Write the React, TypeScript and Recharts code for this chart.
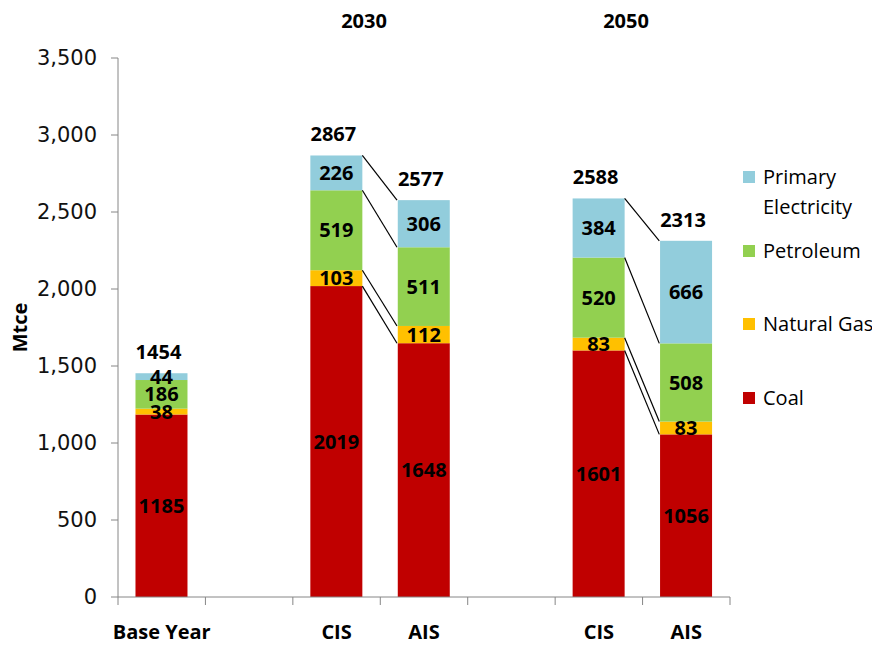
import { BarChart, Bar, XAxis, YAxis, Legend, LabelList } from "recharts";

// categories (two empty slots separate the scenario groups)
const categoryIds = ["base", "gap1", "cis2030", "ais2030", "gap2", "cis2050", "ais2050"];
const categoryLabels = ["Base Year", "", "CIS", "AIS", "", "CIS", "AIS"];

// Mtce by fuel
const coal = [1185, null, 2019, 1648, null, 1601, 1056];
const naturalGas = [38, null, 103, 112, null, 83, 83];
const petroleum = [186, null, 519, 511, null, 520, 508];
const primaryElectricity = [44, null, 226, 306, null, 384, 666];
const totals = [1454, null, 2867, 2577, null, 2588, 2313];

const groupLabels = ["2030", "2050"];
const yTicks = [0, 500, 1000, 1500, 2000, 2500, 3000, 3500];

const series = [
  { key: "coal", name: "Coal", color: "#C00000", values: coal },
  { key: "naturalGas", name: "Natural Gas", color: "#FFC000", values: naturalGas },
  { key: "petroleum", name: "Petroleum", color: "#92D050", values: petroleum },
  { key: "primaryElectricity", name: "Primary Electricity", color: "#92CDDC", values: primaryElectricity },
];

const data = categoryIds.map((id, i) => ({
  id,
  label: categoryLabels[i],
  coal: coal[i],
  naturalGas: naturalGas[i],
  petroleum: petroleum[i],
  primaryElectricity: primaryElectricity[i],
  total: totals[i],
}));

const BOLD = "'Open Sans', sans-serif";
const GAP = 0.2; // barCategoryGap as a fraction of the band

function stackTop(row: number, sIndex: number) {
  let sum = 0;
  for (let k = 0; k <= sIndex; k++) sum += series[k].values[row] ?? 0;
  return sum;
}

// bar segment + series line joining CIS segment top to the matching AIS segment top
function makeShape(sIndex: number) {
  return (props: any) => {
    const { x, y, width, height, payload, fill } = props;
    if (!width || height == null) return <g />;
    const row = categoryIds.indexOf(payload.id);
    let connector = null;
    if (payload.id.startsWith("cis")) {
      const own = series[sIndex].values[row] ?? 0;
      const pxPerUnit = own ? height / own : 0;
      const zeroY = y + height + (stackTop(row, sIndex) - own) * pxPerUnit;
      const targetY = zeroY - stackTop(row + 1, sIndex) * pxPerUnit;
      const band = width / (1 - 2 * GAP);
      connector = (
        <line x1={x + width} y1={y} x2={x + band} y2={targetY} stroke="#000" strokeWidth={1.2} />
      );
    }
    return (
      <g>
        <rect x={x} y={y} width={width} height={height} fill={fill} />
        {connector}
      </g>
    );
  };
}

function CategoryTick(props: any) {
  const { x, y, payload, index } = props;
  const half = payload.offset ?? 43.7;
  const last = index === categoryIds.length - 1;
  const label = categoryLabels[categoryIds.indexOf(payload.value)];
  return (
    <g>
      <line x1={x - half} y1={y} x2={x - half} y2={y + 8} stroke="#868686" />
      {last && <line x1={x + half} y1={y} x2={x + half} y2={y + 8} stroke="#868686" />}
      <text x={x} y={y + 42} textAnchor="middle" fontFamily={BOLD} fontWeight="bold" fontSize={20} fill="#000">
        {label}
      </text>
    </g>
  );
}

function TotalLabel(props: any) {
  const { x, y, width, value } = props;
  if (value == null) return null;
  return (
    <text x={x + width / 2 - 3} y={y - 14} textAnchor="middle" fontFamily={BOLD} fontWeight="bold" fontSize={20} fill="#000">
      {value}
    </text>
  );
}

function renderLegend() {
  return (
    <div style={{ fontFamily: "'Open Sans', sans-serif", fontSize: 20, color: "#000" }}>
      {[...series].reverse().map((s) => (
        <div key={s.key} style={{ display: "flex", alignItems: "flex-start", height: 73.5 }}>
          <span style={{ width: 12, height: 12, background: s.color, marginTop: 9, marginRight: 8, flex: "none" }} />
          <span style={{ lineHeight: "30px", maxWidth: 125 }}>{s.name}</span>
        </div>
      ))}
    </div>
  );
}

export default function App() {
  return (
    <div style={{ position: "relative", width: 872, height: 640 }}>
      <BarChart
        width={872}
        height={640}
        data={data}
        margin={{ top: 50, right: 150, bottom: 0, left: 0 }}
        barCategoryGap={`${GAP * 100}%`}
      >
        <XAxis
          dataKey="id"
          height={51}
          interval={0}
          stroke="#868686"
          tickLine={false}
          tickSize={0}
          tickMargin={0}
          tick={<CategoryTick />}
        />
        <YAxis
          width={110}
          domain={[0, 3500]}
          ticks={yTicks}
          allowDataOverflow
          stroke="#868686"
          tickSize={7}
          tickMargin={14}
          tick={{ fill: "#111", fontSize: 21, fontFamily: "'DejaVu Sans', sans-serif" }}
          tickFormatter={(v: number) => v.toLocaleString("en-US")}
          label={{
            value: "Mtce",
            angle: -90,
            position: "insideLeft",
            offset: 12,
            dy: 0,
            style: { textAnchor: "middle", fontFamily: BOLD, fontWeight: "bold", fontSize: 20, fill: "#000" },
          }}
        />
        <Legend
          layout="horizontal"
          verticalAlign="middle"
          align="center"
          content={renderLegend}
          wrapperStyle={{ left: 735, top: 154, width: 137 }}
        />
        {series.map((s, i) => (
          <Bar
            key={s.key}
            dataKey={s.key}
            name={s.name}
            stackId="total"
            fill={s.color}
            isAnimationActive={false}
            shape={makeShape(i)}
          >
            <LabelList
              dataKey={s.key}
              position="center"
              fill="#000"
              fontFamily={BOLD}
              fontWeight="bold"
              fontSize={20}
              formatter={(v: any) => (v == null ? "" : v)}
            />
            {i === series.length - 1 && <LabelList dataKey="total" content={<TotalLabel />} />}
          </Bar>
        ))}
      </BarChart>
      <svg width={872} height={40} style={{ position: "absolute", left: 0, top: 0, pointerEvents: "none" }}>
        <text x={356} y={20} textAnchor="middle" fontFamily={BOLD} fontWeight="bold" fontSize={20} fill="#000">
          {groupLabels[0]}
        </text>
        <text x={618} y={20} textAnchor="middle" fontFamily={BOLD} fontWeight="bold" fontSize={20} fill="#000">
          {groupLabels[1]}
        </text>
      </svg>
    </div>
  );
}
